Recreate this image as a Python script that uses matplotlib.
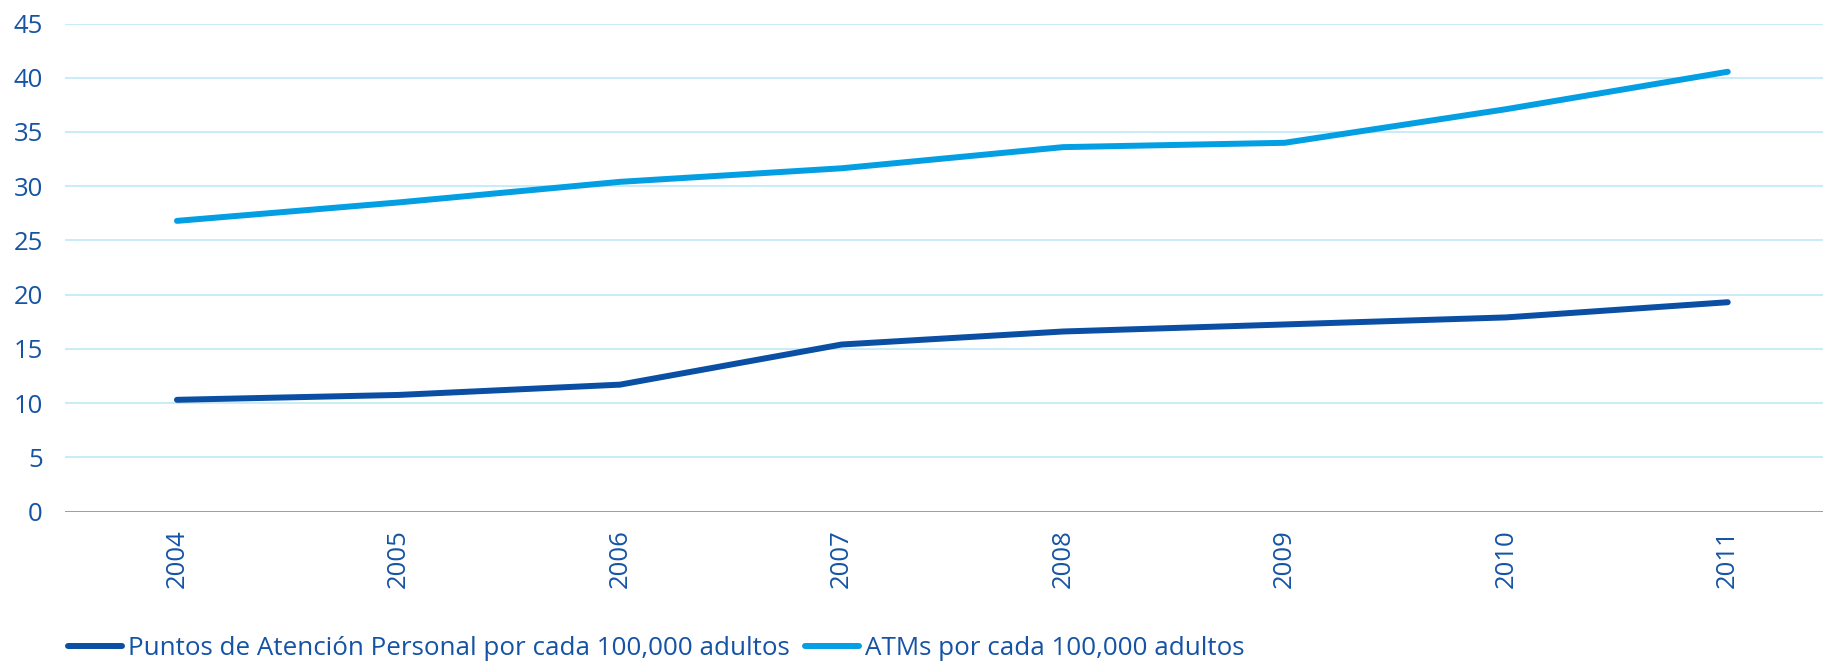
import matplotlib
matplotlib.use("Agg")
import matplotlib.pyplot as plt
import numpy as np

# data
years = ['2004', '2005', '2006', '2007', '2008', '2009', '2010', '2011']
puntos = [10.3, 10.75, 11.7, 15.4, 16.6, 17.25, 17.9, 19.3]
atms = [26.8, 28.5, 30.4, 31.65, 33.6, 34.0, 37.1, 40.55]
yticks = [0, 5, 10, 15, 20, 25, 30, 35, 40, 45]

label_puntos = 'Puntos de Atención Personal por cada 100,000 adultos'
label_atms = 'ATMs por cada 100,000 adultos'

dark_blue = '#0A4FA3'
light_blue = '#049FE3'
text_col = '#1553A5'
grid_col = '#C4EAF8'

plt.rcParams['font.family'] = ['Open Sans', 'DejaVu Sans']

fig = plt.figure(figsize=(18.23, 6.62), dpi=100)
ax = fig.add_axes([0.0357, 0.2273, 0.9643, 0.7372])

x = np.arange(len(years))
ax.plot(x, puntos, color=dark_blue, lw=4.3, solid_capstyle='round',
        solid_joinstyle='round', label=label_puntos, zorder=3)
ax.plot(x, atms, color=light_blue, lw=4.3, solid_capstyle='round',
        solid_joinstyle='round', label=label_atms, zorder=3)

ax.set_ylim(0, 45)
ax.set_xlim(-0.505, 7.43)
ax.set_yticks(yticks)
ax.set_xticks(x)
ax.set_xticklabels(years, rotation=90)

# grid and zero line
for v in yticks[1:]:
    ax.axhline(v, color=grid_col, lw=1.3, zorder=1)
ax.axhline(0, color='#8594C0', lw=2.0, zorder=2)

for s in ax.spines.values():
    s.set_visible(False)
ax.tick_params(axis='both', length=0, labelsize=18.5, colors=text_col)
ax.tick_params(axis='y', pad=16)
ax.tick_params(axis='x', pad=13)
for t in ax.get_xticklabels() + ax.get_yticklabels():
    t.set_color(text_col)

leg = fig.legend(loc='center left', bbox_to_anchor=(0.0375, 0.021), ncol=2,
                 frameon=False, handlelength=2.08, handletextpad=0.23,
                 columnspacing=0.58, borderaxespad=0, borderpad=0,
                 prop={'size': 18.7})
for t in leg.get_texts():
    t.set_color(text_col)

fig.savefig('out.png', dpi=100)
